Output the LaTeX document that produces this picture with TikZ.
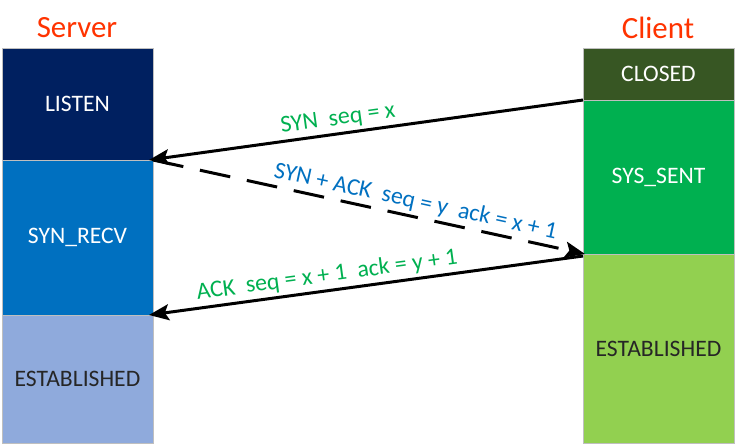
\documentclass[tikz,border=0pt]{standalone}
\usepackage{fontspec}
\setmainfont{Carlito}
\usetikzlibrary{arrows.meta,positioning}
\definecolor{cnavy}{HTML}{002060}
\definecolor{cblue}{HTML}{0070C0}
\definecolor{clight}{HTML}{8FAADC}
\definecolor{cdark}{HTML}{375623}
\definecolor{cgreen}{HTML}{00B050}
\definecolor{clime}{HTML}{92D050}
\definecolor{ctitle}{HTML}{FF3300}
\definecolor{cborder}{HTML}{BFBFBF}
\definecolor{ctext}{HTML}{262626}

\begin{document}
\begin{tikzpicture}[x=1bp,y=-1bp,>={Stealth[length=20bp,width=16bp,inset=4bp]},
  state node/.style={rectangle,draw=cborder,line width=0.8bp,minimum width=151bp,
    inner sep=0pt,outer sep=0pt,text=white,font=\fontsize{23.7}{28}\selectfont},
  title node/.style={text=ctitle,font=\fontsize{31}{36}\selectfont},
  msg/.style={line width=3bp},
  green label/.style={text=cgreen,font=\fontsize{24}{28}\selectfont,sloped,above},
  blue label/.style={text=cblue,font=\fontsize{24}{28}\selectfont,sloped,above}]
  \useasboundingbox (0,0) rectangle (736,444);

  \node[title node] (server) at (77,28) {Server};
  \node[title node] (client) at (658,28) {Client};

  \node[state node,fill=cnavy,minimum height=112bp] (listen) at (77.5,104) {LISTEN};
  \node[state node,fill=cblue,minimum height=155bp] (recv) [below=0pt of listen] {SYN\_RECV};
  \node[state node,fill=clight,text=ctext,minimum height=128bp] (sest) [below=0pt of recv] {ESTABLISHED};

  \node[state node,fill=cdark,minimum height=52bp] (closed) at (658.5,74) {CLOSED};
  \node[state node,fill=cgreen,minimum height=154bp] (sent) [below=0pt of closed] {SYS\_SENT};
  \node[state node,fill=clime,text=ctext,minimum height=189bp] (cest) [below=0pt of sent] {ESTABLISHED};

  \draw[msg,->] (closed.south west) -- node[green label,pos=0.56] {SYN~~seq = x} ([xshift=-4bp]listen.south east);
  \draw[msg,->,dash pattern=on 31bp off 17bp] (listen.south east) -- node[blue label,pos=0.6] {SYN + ACK~~seq = y~~ack = x + 1} ([xshift=2bp]sent.south west);
  \draw[msg,->] ([yshift=-2bp]cest.north west) -- node[green label,pos=0.585] {ACK~~seq = x + 1~~ack = y + 1} ([xshift=-4bp]sest.north east);
\end{tikzpicture}
\end{document}
